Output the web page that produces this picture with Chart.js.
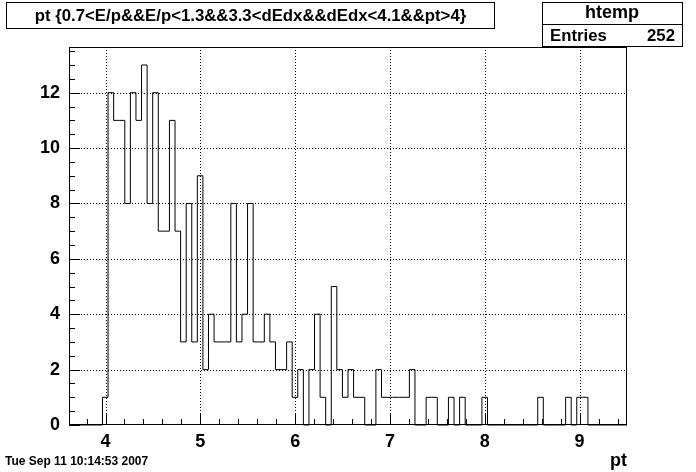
<!DOCTYPE html>
<html>
<head>
<meta charset="utf-8">
<script src="https://cdn.jsdelivr.net/npm/chart.js@4.4.0/dist/chart.umd.min.js"></script>
<style>
  html, body { margin: 0; padding: 0; background: #fff; }
  canvas { display: block; }
</style>
</head>
<body>
<canvas id="chartdiv" width="696" height="472"></canvas>
<script>
// histogram "htemp": 100 bins of pt
var xMin = 3.615;
var binWidth = 0.05885;
var binCounts = [
  0, 0, 0, 0, 0, 0,
  1, 12, 11, 11, 8, 12, 11, 13, 8, 12, 7, 7, 11, 7, 3, 8, 3, 9,
  2, 4, 3, 3, 3, 8, 3, 4, 8, 3, 3, 4, 3, 2, 2, 3, 1, 2,
  0, 2, 4, 1, 0, 5, 2, 1, 2, 1, 1, 0, 0, 2,
  1, 1, 1, 1, 1, 2, 0, 0, 1, 1, 0, 0, 1, 0, 1, 0, 0, 0, 1,
  0, 0, 0, 0, 0, 0, 0, 0, 0, 1, 0, 0, 0, 0, 1, 0, 1, 1,
  0, 0, 0, 0, 0, 0, 0
];
var xMajorTicks = [4, 5, 6, 7, 8, 9];
var yMajorTicks = [0, 2, 4, 6, 8, 10, 12];
var yMax = 13.65;
var titleText = 'pt {0.7<E/p&&E/p<1.3&&3.3<dEdx&&dEdx<4.1&&pt>4}';
var statsName = 'htemp';
var statsEntries = 252;
var dateText = 'Tue Sep 11 10:14:53 2007';
var xTitle = 'pt';

var xMax = xMin + binWidth * binCounts.length;
var FONT = '"Liberation Sans", Arial, sans-serif';

// step points: one per bin low edge, plus the last upper edge
var histPoints = binCounts.map(function(v, i) { return { x: xMin + i * binWidth, y: v }; });
histPoints.push({ x: xMax, y: 0 });

function fitFont(ctx, text, width, maxSize) {
  var size = maxSize;
  ctx.font = 'bold ' + size + 'px ' + FONT;
  while (ctx.measureText(text).width > width && size > 6) {
    size -= 0.25;
    ctx.font = 'bold ' + size + 'px ' + FONT;
  }
}

var rootPlugin = {
  id: 'rootFrame',
  beforeDraw: function(chart) {
    var ctx = chart.ctx;
    ctx.save();
    ctx.fillStyle = '#fff';
    ctx.fillRect(0, 0, chart.width, chart.height);
    ctx.restore();
  },
  beforeDatasetsDraw: function(chart) {
    var ctx = chart.ctx, a = chart.chartArea;
    var xs = chart.scales.x, ys = chart.scales.y;
    ctx.save();
    ctx.strokeStyle = '#000';
    ctx.lineWidth = 1;
    ctx.setLineDash([1, 2]);
    xMajorTicks.forEach(function(t) {
      var px = Math.round(xs.getPixelForValue(t)) + 0.5;
      ctx.beginPath(); ctx.moveTo(px, a.top); ctx.lineTo(px, a.bottom); ctx.stroke();
    });
    yMajorTicks.forEach(function(t) {
      if (t === 0) return;
      var py = Math.round(ys.getPixelForValue(t)) + 0.5;
      ctx.beginPath(); ctx.moveTo(a.left, py); ctx.lineTo(a.right, py); ctx.stroke();
    });
    ctx.restore();
  },
  afterDatasetsDraw: function(chart) {
    var ctx = chart.ctx, a = chart.chartArea;
    var xs = chart.scales.x, ys = chart.scales.y;
    ctx.save();
    ctx.strokeStyle = '#000';
    ctx.lineWidth = 1;
    ctx.setLineDash([]);
    ctx.strokeRect(a.left + 0.5, a.top + 0.5, a.right - a.left - 1, a.bottom - a.top - 1);
    ctx.beginPath();
    // x ticks: major every 1, minor every 0.2
    for (var i = Math.ceil(xMin / 0.2); i * 0.2 <= xMax; i++) {
      var v = i * 0.2;
      var isMajor = Math.abs(v - Math.round(v)) < 1e-6;
      var px = Math.round(xs.getPixelForValue(v)) + 0.5;
      ctx.moveTo(px, a.bottom);
      ctx.lineTo(px, a.bottom - (isMajor ? 11 : 6));
    }
    // y ticks: major every 2, minor every 0.5
    for (var j = 0; j * 0.5 <= yMax; j++) {
      var w = j * 0.5;
      var py = Math.round(ys.getPixelForValue(w)) + 0.5;
      ctx.moveTo(a.left, py);
      ctx.lineTo(a.left + (j % 4 === 0 ? 11 : 6), py);
    }
    ctx.stroke();
    ctx.restore();
  },
  afterDraw: function(chart) {
    var ctx = chart.ctx, a = chart.chartArea;
    ctx.save();
    ctx.strokeStyle = '#000';
    ctx.fillStyle = '#000';
    ctx.lineWidth = 1;
    ctx.setLineDash([]);
    // title box
    ctx.strokeRect(6.5, 2.5, 488, 26);
    fitFont(ctx, titleText, 434, 19);
    ctx.textAlign = 'center';
    ctx.textBaseline = 'middle';
    ctx.fillText(titleText, 250.5, 16);
    // stats box
    ctx.strokeRect(542.5, 2.5, 140, 44);
    ctx.beginPath(); ctx.moveTo(542.5, 24.5); ctx.lineTo(682.5, 24.5); ctx.stroke();
    fitFont(ctx, statsName, 54, 19);
    ctx.fillText(statsName, 612, 13.5);
    fitFont(ctx, 'Entries', 57, 19);
    ctx.textAlign = 'left';
    ctx.fillText('Entries', 550, 36);
    ctx.textAlign = 'right';
    ctx.fillText(String(statsEntries), 675, 36);
    // date
    fitFont(ctx, dateText, 147, 12);
    ctx.textAlign = 'left';
    ctx.fillText(dateText, 5, 462);
    // x axis title
    ctx.font = 'bold 18px ' + FONT;
    ctx.textAlign = 'right';
    ctx.fillText(xTitle, a.right, 461);
    ctx.restore();
  }
};

var ctx1 = document.getElementById('chartdiv').getContext('2d');
var histChart = new Chart(ctx1, {
  type: 'line',
  data: {
    datasets: [{
      label: statsName,
      data: histPoints,
      stepped: 'before',
      borderColor: '#000',
      borderWidth: 1,
      pointRadius: 0,
      fill: false,
      clip: false
    }]
  },
  options: {
    responsive: false,
    devicePixelRatio: 1,
    animation: false,
    events: [],
    layout: { padding: { top: 47, right: 69, left: 0, bottom: 0 } },
    plugins: {
      legend: { display: false },
      tooltip: { enabled: false },
      title: { display: false }
    },
    scales: {
      x: {
        type: 'linear',
        min: xMin,
        max: xMax,
        grid: { display: false, drawTicks: false },
        border: { display: false },
        afterFit: function(scale) { scale.height = 47; },
        afterBuildTicks: function(scale) {
          scale.ticks = xMajorTicks.map(function(v) { return { value: v }; });
        },
        ticks: {
          padding: 6,
          maxRotation: 0,
          color: '#000',
          font: { family: FONT, weight: 'bold', size: 18 }
        }
      },
      y: {
        type: 'linear',
        min: 0,
        max: yMax,
        grid: { display: false, drawTicks: false },
        border: { display: false },
        afterFit: function(scale) { scale.width = 69; },
        afterBuildTicks: function(scale) {
          scale.ticks = yMajorTicks.map(function(v) { return { value: v }; });
        },
        ticks: {
          padding: 9,
          color: '#000',
          font: { family: FONT, weight: 'bold', size: 18 }
        }
      }
    }
  },
  plugins: [rootPlugin]
});
</script>
</body>
</html>
